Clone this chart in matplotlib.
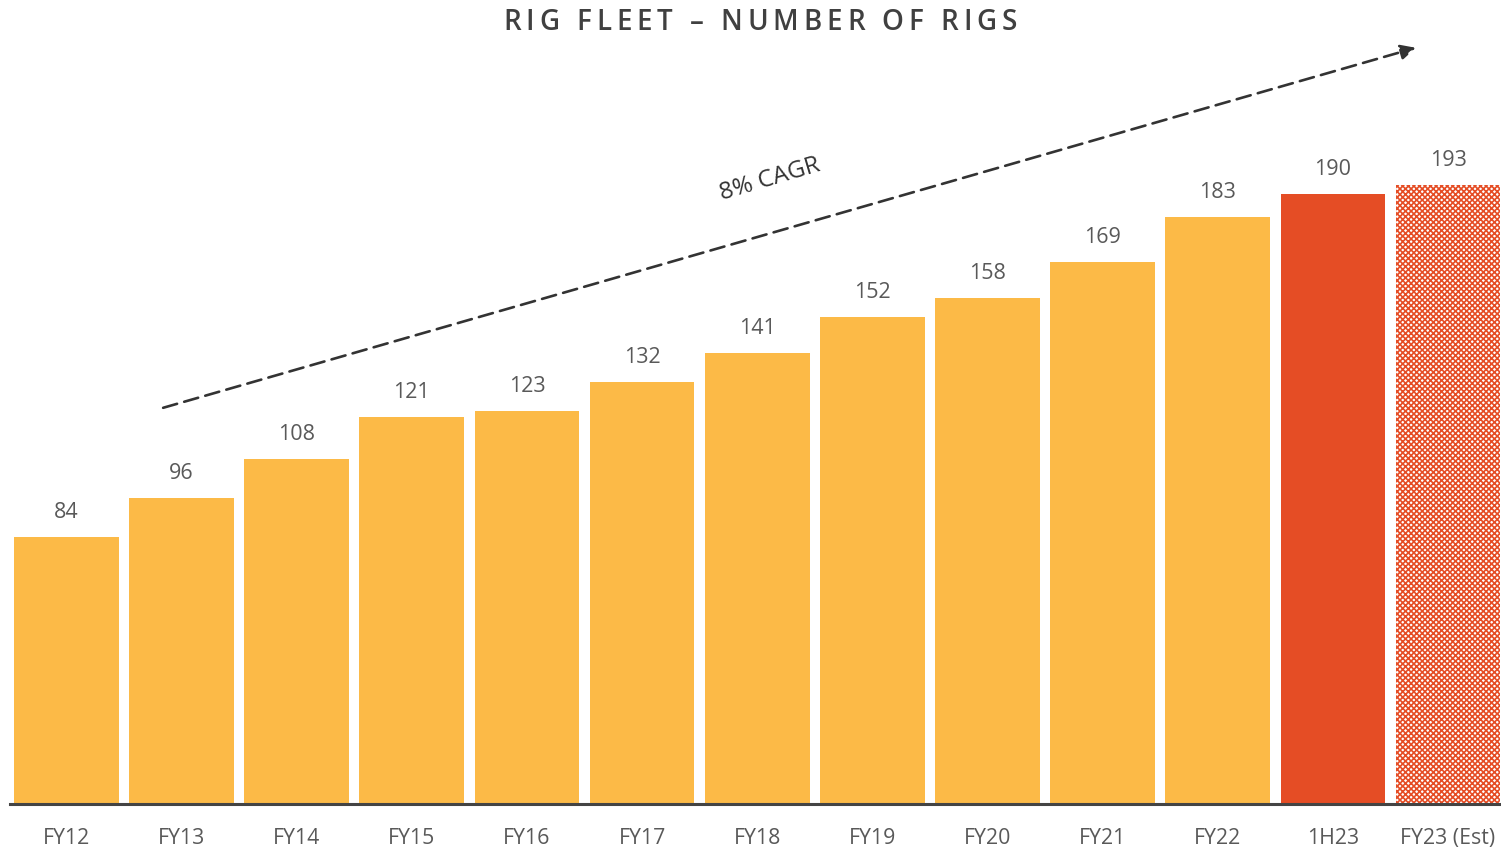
import numpy as np
import matplotlib.pyplot as plt

plt.rcParams['font.family'] = ['Open Sans', 'DejaVu Sans']
plt.rcParams['hatch.linewidth'] = 1.2

years = ["FY12", "FY13", "FY14", "FY15", "FY16", "FY17", "FY18",
         "FY19", "FY20", "FY21", "FY22", "1H23", "FY23 (Est)"]
rigs = [84, 96, 108, 121, 123, 132, 141, 152, 158, 169, 183, 190, 193]
kind = ["actual"] * 11 + ["half", "estimate"]

yellow = "#FCBA47"
red = "#E54D25"
text_grey = "#595959"

fig = plt.figure(figsize=(15.01, 8.49), dpi=100)
ax = fig.add_axes([10 / 1501, 45 / 849, 1 - 10 / 1501, 804 / 849])

x = np.arange(len(years))
for xi, v, k in zip(x, rigs, kind):
    if k == "actual":
        ax.bar(xi, v, width=0.91, color=yellow, zorder=2)
    elif k == "half":
        ax.bar(xi, v, width=0.91, color=red, zorder=2)
    else:
        ax.bar(xi, v, width=0.91, facecolor="white", edgecolor=red,
               linewidth=0, hatch="xxxxxx", zorder=2)
    ax.annotate(str(v), (xi, v), xytext=(0, 10), textcoords="offset points",
                ha="center", va="bottom", fontsize=15.5, color=text_grey)

ax.set_xlim(-0.49, 12.46)
ax.set_ylim(1.2, 250.2)

# growth trend arrow
ax.annotate("", xy=(11.72, 235.4), xytext=(0.84, 123.9),
            arrowprops=dict(arrowstyle="-|>,head_length=0.9,head_width=0.45",
                            color="#333333", lw=1.9, linestyle=(0, (5.5, 2.8)),
                            shrinkA=0, shrinkB=0))
ax.text(6.11, 194.5, "8% CAGR", rotation=16.5, ha="center", va="center",
        fontsize=17.5, color="#333333", rotation_mode="anchor")

for s in ["top", "right", "left"]:
    ax.spines[s].set_visible(False)
ax.spines["bottom"].set_color("#444444")
ax.spines["bottom"].set_linewidth(2.2)
ax.spines["bottom"].set_zorder(3)
ax.set_yticks([])
ax.set_xticks(x)
ax.set_xticklabels(years, fontsize=15.3, color=text_grey)
ax.tick_params(axis="x", length=0, pad=17)

# spaced-out title, drawn letter by letter
title = "RIG FLEET – NUMBER OF RIGS"
title_size = 20
title_weight = 600
fig.canvas.draw()
renderer = fig.canvas.get_renderer()
widths = []
for ch in title:
    t = fig.text(0, 0, ch, fontsize=title_size, fontweight=title_weight)
    widths.append(t.get_window_extent(renderer).width if ch != " " else 7)
    t.remove()
span = 514
tracking = (span - sum(widths)) / (len(title) - 1)
xpos = 760 - span / 2
for ch, w in zip(title, widths):
    fig.text(xpos / 1501, 1 - 22 / 849, ch, fontsize=title_size,
             fontweight=title_weight, color="#404040", ha="left", va="center")
    xpos += w + tracking

fig.savefig("out.png", dpi=100)
